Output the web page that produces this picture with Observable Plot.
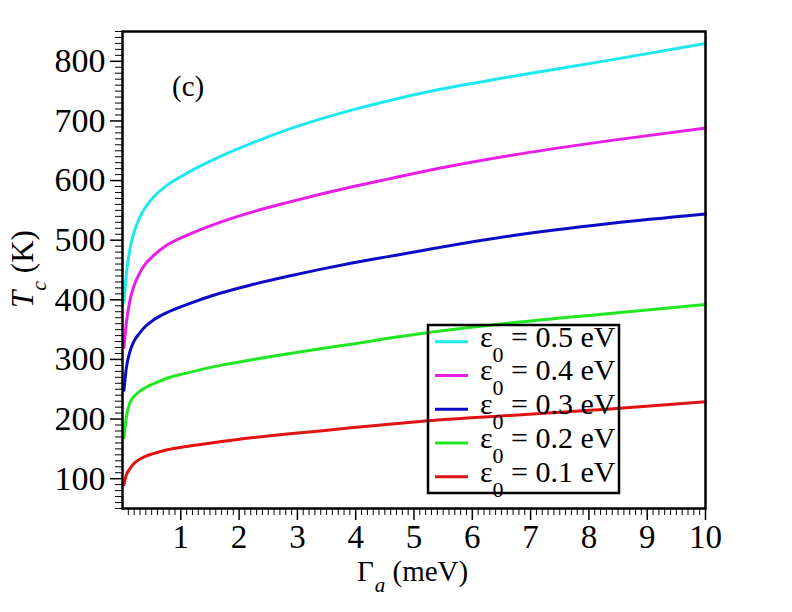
<!DOCTYPE html>
<html><head><meta charset="utf-8">
<script src="https://cdn.jsdelivr.net/npm/d3@7"></script>
<script src="https://cdn.jsdelivr.net/npm/@observablehq/plot@0.6"></script>
<style>
body{margin:0;background:#fff;}
#wrap{position:relative;width:792px;height:612px;}
</style></head><body><div id="wrap"></div>
<script>
// Γa (meV) sample positions
const gamma = [0.025, 0.065, 0.13, 0.2, 0.3, 0.4, 0.53, 0.75, 1.1, 1.67, 2.25, 2.82, 3.39, 3.96, 4.53, 5.1, 6.65, 8.36, 10];
// Tc (K) for each ε0
const tc05 = [396, 442, 486, 514, 539, 556, 572, 591, 612, 640, 664, 685, 703, 719, 733, 746, 774, 802, 830];
const tc04 = [320, 360, 400, 424, 446, 461, 474, 491, 508, 530, 548, 563, 577, 590, 602, 614, 642, 667, 688];
const tc03 = [248, 285, 314, 331, 345, 356, 366, 378, 392, 411, 426, 439, 451, 462, 472, 482, 507, 528, 544];
const tc02 = [169, 203, 228, 238, 247, 253, 259, 268, 277, 290, 300, 309, 318, 326, 335, 343, 361, 377, 392];
const tc01 = [90, 106, 117, 126, 133, 138, 142, 148, 154, 162, 169, 175, 180, 186, 191, 196, 206, 217, 229];
const epsValues = [0.5, 0.4, 0.3, 0.2, 0.1];
const epsLabels = ["0.5", "0.4", "0.3", "0.2", "0.1"];
const seriesColors = ["#1ee8ee", "#e81ee8", "#0c0cc4", "#22e622", "#e01212"];
const xTicks = [1, 2, 3, 4, 5, 6, 7, 8, 9, 10];
const yTicks = [100, 200, 300, 400, 500, 600, 700, 800];
const panelNote = [{x: 0.85, y: 758, t: "(c)"}];

const series = [tc05, tc04, tc03, tc02, tc01];
const data = [];
series.forEach((s, i) => s.forEach((v, j) => data.push({g: gamma[j], tc: v, eps: epsValues[i]})));

const minorX = d3.range(1, 100).map(i => i / 10).filter(v => Math.abs(v - Math.round(v)) > 1e-6);
const minorY = d3.range(5, 86).map(i => i * 10).filter(v => v % 100 !== 0);

const ff = "'Liberation Serif', 'DejaVu Serif', serif";
const chart = Plot.plot({
  width: 792, height: 612,
  marginLeft: 122, marginRight: 87, marginTop: 31, marginBottom: 104,
  style: {fontFamily: ff, fontSize: "34px", color: "#000", background: "#fff", overflow: "visible"},
  x: {domain: [0, 10]},
  y: {domain: [50, 850]},
  color: {domain: epsValues, range: seriesColors},
  marks: [
    Plot.axisX(minorX, {tickSize: 7, text: null, label: null, strokeWidth: 1}),
    Plot.axisX(xTicks, {tickSize: 12, tickPadding: 4, label: null, fontSize: 33, strokeWidth: 1.5}),
    Plot.axisY(minorY, {tickSize: 7, text: null, label: null, strokeWidth: 1}),
    Plot.axisY(yTicks, {tickSize: 12, tickPadding: 5, label: null, fontSize: 34, strokeWidth: 1.5}),
    Plot.line(data, {x: "g", y: "tc", z: "eps", stroke: "eps", strokeWidth: 3, curve: "monotone-x"}),
    Plot.frame({stroke: "#000", strokeWidth: 2.5}),
    Plot.text(panelNote, {x: "x", y: "y", text: "t", fontSize: 29, textAnchor: "start", fill: "#000"})
  ]
});
document.getElementById("wrap").appendChild(chart);

const svg = d3.select(chart);
// X axis label
const xl = svg.append("text").attr("x", 357).attr("y", 581).attr("text-anchor", "start")
  .attr("font-family", ff).attr("font-size", 29).attr("fill", "#000");
xl.append("tspan").text("Γ");
xl.append("tspan").attr("font-style", "italic").attr("font-size", 21).attr("dy", 11).attr("dx", 1).text("a");
xl.append("tspan").attr("dy", -11).text(" (meV)");
// Y axis label
const yl = svg.append("text").attr("transform", "translate(33,269) rotate(-90)").attr("text-anchor", "middle")
  .attr("font-family", ff).attr("font-size", 31).attr("fill", "#000");
yl.append("tspan").attr("font-style", "italic").text("T");
yl.append("tspan").attr("font-style", "italic").attr("font-size", 22).attr("dy", 13).text("c");
yl.append("tspan").attr("dy", -13).text(" (K)");
// Legend
const lg = svg.append("g");
lg.append("rect").attr("x", 428).attr("y", 325).attr("width", 191).attr("height", 168)
  .attr("fill", "none").attr("stroke", "#000").attr("stroke-width", 2.5);
epsLabels.forEach((lab, i) => {
  const cy = 341.7 + i * 33.75;
  lg.append("line").attr("x1", 435).attr("x2", 468).attr("y1", cy).attr("y2", cy)
    .attr("stroke", seriesColors[i]).attr("stroke-width", 3);
  const t = lg.append("text").attr("x", 480).attr("y", cy + 5).attr("text-anchor", "start")
    .attr("font-family", ff).attr("font-size", 30).attr("fill", "#000");
  t.append("tspan").text("ε");
  t.append("tspan").attr("font-size", 22).attr("dy", 15).text("0");
  t.append("tspan").attr("dy", -15).text(" = " + lab + " eV");
});
</script></body></html>
